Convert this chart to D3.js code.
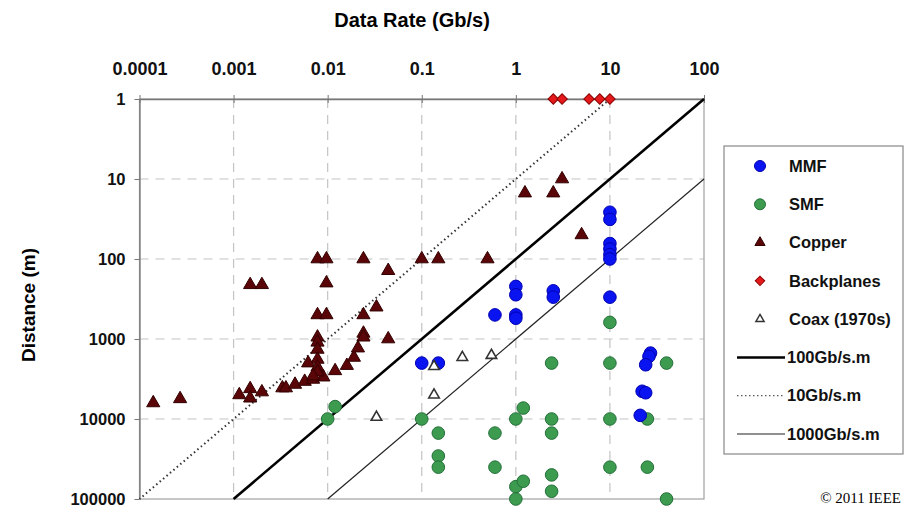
<!DOCTYPE html>
<html>
<head>
<meta charset="utf-8">
<script src="https://cdn.jsdelivr.net/npm/d3@7"></script>
<style>
  body { margin: 0; background: #fff; }
  svg { display: block; font-family: "Liberation Sans", Arial, sans-serif; }
  .tick-label { font-weight: bold; font-size: 16.5px; fill: #111; }
  .x-tick-label { font-weight: bold; font-size: 18px; fill: #111; }
  .legend-label { font-weight: bold; font-size: 16.5px; fill: #111; }
</style>
</head>
<body>
<div id="chart"></div>
<script>
// data ([rate Gb/s, distance m])
var mmf = [[0.1, 2000], [0.15, 2000], [0.6, 500], [1, 500], [1, 550], [1, 220], [1, 280],
  [2.5, 250], [2.5, 300], [10, 300], [10, 26], [10, 32], [10, 64], [10, 75], [10, 88], [10, 100],
  [27, 1500], [26, 1650], [24, 2100], [22, 4500], [24, 4700], [21, 9000]];

var smf = [[0.01, 10000], [0.012, 7000], [0.1, 10000], [0.15, 15000], [0.15, 29000], [0.15, 40000],
  [0.6, 15000], [0.6, 40000], [1, 10000], [1.2, 7300], [1, 70000], [1.2, 60000], [1, 100000],
  [2.4, 2000], [2.4, 10000], [2.4, 15000], [2.4, 50000], [2.4, 80000],
  [10, 620], [10, 2000], [10, 10000], [10, 40000], [25, 10000], [25, 40000], [40, 2000], [40, 100000]];

var copper = [[0.00014, 6300], [0.00027, 5600], [0.00115, 5000], [0.0015, 4200], [0.0015, 5500],
  [0.002, 4600], [0.0033, 4100], [0.0036, 4100], [0.0045, 3700], [0.0057, 3400], [0.007, 3200],
  [0.009, 3000], [0.012, 2500], [0.016, 2150], [0.019, 1700], [0.021, 1300], [0.024, 850],
  [0.024, 950], [0.044, 1000], [0.024, 500], [0.033, 400], [0.0078, 500], [0.0097, 500],
  [0.0078, 950], [0.0078, 1100], [0.0078, 1350], [0.0078, 1800], [0.0062, 2000], [0.0078, 2250],
  [0.0078, 2600], [0.007, 2900], [0.0015, 210], [0.002, 210], [0.0097, 200],
  [0.0078, 100], [0.0097, 100], [0.024, 100], [0.044, 140],
  [0.1, 100], [0.15, 100], [0.5, 100], [1.25, 15], [2.5, 15], [3.1, 10], [5, 50]];

var backplanes = [[2.5, 1], [3.1, 1], [6, 1], [7.8, 1], [10, 1]];

var coax = [[0.135, 2200], [0.27, 1700], [0.55, 1600], [0.135, 5000], [0.033, 9500]];

var x_ticks = [0.0001, 0.001, 0.01, 0.1, 1, 10, 100];
var x_tick_labels = ["0.0001", "0.001", "0.01", "0.1", "1", "10", "100"];
var y_ticks = [1, 10, 100, 1000, 10000, 100000];
var y_tick_labels = ["1", "10", "100", "1000", "10000", "100000"];

// bandwidth-distance products (Gb/s.m)
var products = [100, 10, 1000];
var product_labels = ["100Gb/s.m", "10Gb/s.m", "1000Gb/s.m"];

// magic numbers ("top" is taken by window.top, so prefix everything)
var W = 906, H = 513;
var p_left = 139.5, p_right = 704, p_top = 99, p_bottom = 499;

var svg = d3.select("#chart").append("svg")
  .attr("width", W)
  .attr("height", H);

var x = d3.scaleLog().domain([0.0001, 100]).range([p_left, p_right]);
var y = d3.scaleLog().domain([1, 100000]).range([p_top, p_bottom]);

// grid
svg.append("g").selectAll("line")
    .data(x_ticks.slice(1, -1))
  .enter().append("line")
    .attr("x1", function(d){ return x(d); })
    .attr("x2", function(d){ return x(d); })
    .attr("y1", p_top).attr("y2", p_bottom)
    .attr("stroke", "#c4c4c4").attr("stroke-width", 1.2)
    .attr("stroke-dasharray", "9,7");

svg.append("g").selectAll("line")
    .data(y_ticks.slice(1, -1))
  .enter().append("line")
    .attr("y1", function(d){ return y(d); })
    .attr("y2", function(d){ return y(d); })
    .attr("x1", p_left).attr("x2", p_right)
    .attr("stroke", "#c4c4c4").attr("stroke-width", 1.2)
    .attr("stroke-dasharray", "9,7");

// plot frame
svg.append("rect")
  .attr("x", p_left).attr("y", p_top)
  .attr("width", p_right - p_left).attr("height", p_bottom - p_top)
  .attr("fill", "none").attr("stroke", "#a0a0a0").attr("stroke-width", 1.2);

// axes
var xAxis = d3.axisTop(x)
  .tickValues(x_ticks)
  .tickFormat(function(d, i){ return x_tick_labels[i]; })
  .tickSizeInner(5).tickSizeOuter(0).tickPadding(19);

svg.append("g")
  .attr("transform", "translate(0," + p_top + ")")
  .call(xAxis)
  .call(function(g){
    g.select(".domain").attr("stroke", "#777").attr("stroke-width", 1.3);
    g.selectAll(".tick line").attr("stroke", "#777").attr("y2", -4).attr("y1", 4);
    g.selectAll(".tick text").attr("class", "x-tick-label").attr("font-family", null).attr("font-size", null);
  });

var yAxis = d3.axisLeft(y)
  .tickValues(y_ticks)
  .tickFormat(function(d, i){ return y_tick_labels[i]; })
  .tickSizeInner(5).tickSizeOuter(0).tickPadding(9);

svg.append("g")
  .attr("transform", "translate(" + p_left + ",0)")
  .call(yAxis)
  .call(function(g){
    g.select(".domain").attr("stroke", "#777").attr("stroke-width", 1.3);
    g.selectAll(".tick line").attr("stroke", "#777");
    g.selectAll(".tick text").attr("class", "tick-label").attr("font-family", null).attr("font-size", null);
  });

// axis titles
svg.append("text")
  .attr("x", 412).attr("y", 27)
  .attr("text-anchor", "middle")
  .style("font-weight", "bold").style("font-size", "20px")
  .text("Data Rate (Gb/s)");

svg.append("text")
  .attr("transform", "translate(35,305) rotate(-90)")
  .attr("text-anchor", "middle")
  .style("font-weight", "bold").style("font-size", "19px")
  .text("Distance (m)");

// constant product lines
var line_styles = {
  100: {w: 2.6, dash: null, color: "#000"},
  10: {w: 2, dash: "1.5,3", color: "#333"},
  1000: {w: 1.2, dash: null, color: "#222"}
};

products.forEach(function(p){
  var r0 = Math.min(100, p / 1), r1 = Math.max(0.0001, p / 100000);
  var s = line_styles[p];
  svg.append("line")
    .attr("x1", x(r0)).attr("y1", y(p / r0))
    .attr("x2", x(r1)).attr("y2", y(p / r1))
    .attr("stroke", s.color)
    .attr("stroke-width", s.w)
    .attr("stroke-dasharray", s.dash);
});

// markers
var tri = d3.symbol().type(d3.symbolTriangle);
var sq = d3.symbol().type(d3.symbolSquare);

function circles(data, fill, stroke){
  svg.append("g").selectAll("circle")
      .data(data)
    .enter().append("circle")
      .attr("cx", function(d){ return x(d[0]); })
      .attr("cy", function(d){ return y(d[1]); })
      .attr("r", 6.3)
      .attr("fill", fill)
      .attr("stroke", stroke).attr("stroke-width", 1);
}

circles(smf, "#3d9b50", "#24703a");

svg.append("g").selectAll("path")
    .data(copper)
  .enter().append("path")
    .attr("d", tri.size(75)())
    .attr("transform", function(d){ return "translate(" + x(d[0]) + "," + y(d[1]) + ")"; })
    .attr("fill", "#5a0608")
    .attr("stroke", "#300")
    .attr("stroke-width", 1);

circles(mmf, "#0a14f0", "#0000b0");

svg.append("g").selectAll("path")
    .data(coax)
  .enter().append("path")
    .attr("d", tri.size(48)())
    .attr("transform", function(d){ return "translate(" + x(d[0]) + "," + y(d[1]) + ")"; })
    .attr("fill", "#fff")
    .attr("stroke", "#333")
    .attr("stroke-width", 1.6);

svg.append("g").selectAll("path")
    .data(backplanes)
  .enter().append("path")
    .attr("d", sq.size(55)())
    .attr("transform", function(d){ return "translate(" + x(d[0]) + "," + y(d[1]) + ") rotate(45)"; })
    .attr("fill", "#e3191c")
    .attr("stroke", "#8a0000")
    .attr("stroke-width", 1);

// legend
var lg = svg.append("g");
lg.append("rect")
  .attr("x", 724).attr("y", 146)
  .attr("width", 179).attr("height", 308)
  .attr("fill", "#fff").attr("stroke", "#888").attr("stroke-width", 1.2);

var series_names = ["MMF", "SMF", "Copper", "Backplanes", "Coax (1970s)"];
var ly = d3.scaleLinear().domain([0, 7]).range([166, 434]);

series_names.forEach(function(name, i){
  var cy = ly(i);
  if (name == "MMF" || name == "SMF") {
    lg.append("circle").attr("cx", 760).attr("cy", cy).attr("r", 5.5)
      .attr("fill", name == "MMF" ? "#0a14f0" : "#3d9b50")
      .attr("stroke", name == "MMF" ? "#0000b0" : "#24703a");
  } else if (name == "Copper") {
    lg.append("path").attr("d", tri.size(45)())
      .attr("transform", "translate(760," + cy + ")")
      .attr("fill", "#5a0608").attr("stroke", "#300");
  } else if (name == "Backplanes") {
    lg.append("path").attr("d", sq.size(45)())
      .attr("transform", "translate(760," + cy + ") rotate(45)")
      .attr("fill", "#e3191c").attr("stroke", "#8a0000");
  } else {
    lg.append("path").attr("d", tri.size(30)())
      .attr("transform", "translate(760," + cy + ")")
      .attr("fill", "#fff").attr("stroke", "#333").attr("stroke-width", 1.4);
  }
  lg.append("text").attr("class", "legend-label")
    .attr("x", 789).attr("y", cy).attr("dy", "0.35em")
    .text(name);
});

products.forEach(function(p, i){
  var cy = ly(i + 5), s = line_styles[p];
  lg.append("line")
    .attr("x1", 737).attr("x2", 785)
    .attr("y1", cy).attr("y2", cy)
    .attr("stroke", p == 10 ? "#555" : s.color)
    .attr("stroke-width", p == 10 ? 1.3 : s.w)
    .attr("stroke-dasharray", p == 10 ? "1.5,2.5" : null);
  lg.append("text").attr("class", "legend-label")
    .attr("x", 787).attr("y", cy).attr("dy", "0.35em")
    .text(product_labels[i]);
});

// credit
svg.append("text")
  .attr("x", 901).attr("y", 503)
  .attr("text-anchor", "end")
  .style("font-family", "'Liberation Serif', 'Times New Roman', serif")
  .style("font-size", "15px")
  .text("\u00a9 2011 IEEE");
</script>
</body>
</html>
